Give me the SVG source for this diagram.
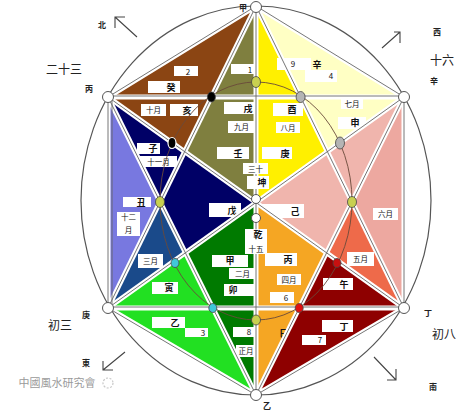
<svg xmlns="http://www.w3.org/2000/svg" width="474" height="414" viewBox="0 0 474 414">
<style>
.t{font-family:"Noto Sans CJK SC","Noto Sans",sans-serif;font-size:9px;font-weight:700;fill:#111;text-anchor:middle}
.m{font-size:7.5px;font-weight:400}
.n{font-size:8px;font-weight:400}
.o{font-family:"Noto Sans CJK SC","Noto Sans",sans-serif;font-size:12px;fill:#222;text-anchor:middle}
.s{font-family:"Noto Sans CJK SC","Noto Sans",sans-serif;font-size:8px;font-weight:700;fill:#222;text-anchor:middle}
.b{fill:#fff}
.w{stroke:#fff;stroke-width:5;fill:none}
.g{stroke:#666;stroke-width:0.9;fill:none}
.vx{fill:#fff;stroke:#555;stroke-width:1}
.ar{stroke:#444;stroke-width:1.1;fill:none}
</style>
<rect width="474" height="414" fill="#fff"/>

<g id="n-brown-top"><polygon points="108,97 256,6 211.4,97" fill="#8B4513"/>
<rect class="b" x="174" y="66" width="24" height="10"/><text class="t n" x="188" y="74.5">2</text>
<rect class="b" x="148" y="81" width="32" height="12"/><text class="t" x="171" y="90.5">癸</text></g>

<g id="n-olive-top"><polygon points="256,6 211.4,97 256,97" fill="#7F7F3F"/>
<rect class="b" x="231" y="64" width="24" height="10"/><text class="t n" x="250" y="72.5">1</text></g>

<g id="n-brown-low"><polygon points="108,97 211.4,97 184.6,151.6" fill="#8B4513"/>
<rect class="b" x="141" y="104" width="25" height="12"/><text class="t m" x="153.5" y="113">十月</text>
<rect class="b" x="170" y="104" width="28" height="12"/><text class="t" x="187" y="113.5">亥</text></g>

<g id="n-olive-low"><polygon points="211.4,97 256,97 256,202.5 184.6,151.6" fill="#7F7F3F"/>
<rect class="b" x="224" y="102" width="32" height="12"/><text class="t" x="248" y="111.5">戌</text>
<rect class="b" x="228" y="121" width="27" height="12"/><text class="t m" x="241.5" y="130">九月</text>
<rect class="b" x="217" y="147" width="32" height="12"/><text class="t" x="238" y="156.5">壬</text></g>

<g id="n-navy-up"><polygon points="108,97 184.6,151.6 160,202" fill="#000066"/>
<rect class="b" x="137" y="143" width="23" height="11"/><text class="t" x="153" y="151.5">子</text>
<rect class="b" x="140" y="156" width="37" height="11"/><text class="t m" x="158.5" y="164.5">十一月</text></g>

<g id="n-lavender"><polygon points="108,97 160,202 108,308" fill="#7878E0"/>
<rect class="b" x="123" y="197" width="28" height="10"/><text class="t" x="141" y="205.5">丑</text>
<rect class="b" x="117" y="212" width="23" height="24"/><text class="t m" x="128.5" y="220">十二</text><text class="t m" x="128.5" y="233">月</text></g>

<g id="n-navy-center"><polygon points="184.6,151.6 256,202.5 185.4,252.8 160,202" fill="#000066"/>
<rect class="b" x="209" y="203" width="32" height="14"/><text class="t" x="232" y="213.5">戊</text></g>

<g id="n-steelblue"><polygon points="160,202 108,308 185.4,252.8" fill="#1A4A8A"/>
<rect class="b" x="138" y="254" width="25" height="14"/><text class="t m" x="150.5" y="264">三月</text></g>

<g id="n-darkgreen"><polygon points="256,202.5 185.4,252.8 256,395" fill="#007A00"/>
<rect class="b" x="212" y="255" width="36" height="12"/><text class="t" x="230" y="264">甲</text>
<rect class="b" x="229" y="268" width="27" height="11"/><text class="t m" x="242.5" y="276.5">二月</text>
<rect class="b" x="224" y="284" width="30" height="12"/><text class="t" x="233" y="293">卯</text>
<rect class="b" x="233" y="327" width="22" height="10"/><text class="t n" x="249" y="335">8</text>
<rect class="b" x="236" y="345" width="20" height="12"/><text class="t m" x="246" y="354">正月</text></g>

<g id="n-brightgreen"><polygon points="108,308 185.4,252.8 256,395" fill="#22E022"/>
<rect class="b" x="152" y="282" width="26" height="12"/><text class="t" x="169" y="291">寅</text>
<rect class="b" x="152" y="317" width="33" height="11"/><text class="t" x="175" y="326">乙</text>
<rect class="b" x="185" y="328" width="23" height="9"/><text class="t n" x="203" y="335.5">3</text></g>

<g id="n-paleyellow-top"><polygon points="256,6 404,97 300.6,97" fill="#FFFFC4"/>
<text class="t" x="317" y="68">辛</text>
<rect class="b" x="305" y="70" width="32" height="12"/><text class="t n" x="331" y="79">4</text></g>

<g id="n-yellow-top"><polygon points="256,6 256,97 300.6,97" fill="#FFF000"/>
<rect class="b" x="277" y="58" width="34" height="12"/><text class="t n" x="293" y="67">9</text></g>

<g id="n-paleyellow-low"><polygon points="404,97 300.6,97 327.4,151.6" fill="#FFFFC4"/>
<rect class="b" x="341" y="99" width="22" height="10"/><text class="t m" x="352" y="107">七月</text>
<rect class="b" x="338" y="117" width="28" height="12"/><text class="t" x="355" y="126">申</text></g>

<g id="n-yellow-low"><polygon points="300.6,97 256,97 256,202.5 327.4,151.6" fill="#FFF000"/>
<rect class="b" x="273" y="103" width="30" height="13"/><text class="t" x="292" y="112.5">酉</text>
<rect class="b" x="276" y="122" width="24" height="11"/><text class="t m" x="288" y="130.5">八月</text>
<rect class="b" x="262" y="147" width="30" height="12"/><text class="t" x="285" y="156.5">庚</text></g>

<g id="n-pink-up"><polygon points="404,97 327.4,151.6 352,202" fill="#F0B5AD"/>
<rect class="b" x="356" y="194" width="36" height="12"/><text class="t" x="375" y="203">未</text></g>

<g id="n-pink-right"><polygon points="404,97 352,202 404,308" fill="#EDA8A0"/>
<rect class="b" x="373" y="208" width="25" height="12"/><text class="t m" x="385.5" y="217">六月</text></g>

<g id="n-pink-center"><polygon points="327.4,151.6 352,202 326.6,252.8 256,202.5" fill="#F0B5AD"/>
<rect class="b" x="262" y="204" width="42" height="14"/><text class="t" x="295" y="214.5">己</text></g>

<g id="n-orangered"><polygon points="352,202 404,308 326.6,252.8" fill="#EE6A4A"/>
<rect class="b" x="347" y="252" width="27" height="14"/><text class="t m" x="360.5" y="262">五月</text></g>

<g id="n-orange"><polygon points="256,202.5 326.6,252.8 256,395" fill="#F5A623"/>
<rect class="b" x="265" y="253" width="32" height="13"/><text class="t" x="288" y="263">丙</text>
<rect class="b" x="277" y="274" width="24" height="11"/><text class="t m" x="289" y="282.5">四月</text>
<rect class="b" x="270" y="292" width="24" height="11"/><text class="t n" x="286" y="300.5">6</text>
<text class="t" x="284" y="337">巳</text></g>

<g id="n-darkred"><polygon points="404,308 326.6,252.8 256,395" fill="#8E0000"/>
<rect class="b" x="323" y="278" width="30" height="12"/><text class="t" x="344" y="287.5">午</text>
<rect class="b" x="322" y="320" width="31" height="12"/><text class="t" x="344" y="329.5">丁</text>
<rect class="b" x="302" y="335" width="24" height="10"/><text class="t n" x="320" y="343">7</text></g>

<g id="connectors">
<g class="w">
<line x1="256" y1="6" x2="108" y2="308"/><line x1="256" y1="6" x2="404" y2="308"/>
<line x1="256" y1="395" x2="108" y2="97"/><line x1="256" y1="395" x2="404" y2="97"/>
<line x1="108" y1="97" x2="404" y2="308"/><line x1="404" y1="97" x2="108" y2="308"/>
<line x1="108" y1="97" x2="404" y2="97"/><line x1="108" y1="308" x2="404" y2="308"/>
<line x1="256" y1="6" x2="256" y2="395"/>
<polygon points="256,6 404,97 404,308 256,395 108,308 108,97"/>
</g>
<g class="g">
<line x1="256" y1="6" x2="108" y2="308"/><line x1="256" y1="6" x2="404" y2="308"/>
<line x1="256" y1="395" x2="108" y2="97"/><line x1="256" y1="395" x2="404" y2="97"/>
<line x1="108" y1="97" x2="404" y2="308"/><line x1="404" y1="97" x2="108" y2="308"/>
<line x1="108" y1="96" x2="404" y2="96"/><line x1="108" y1="307" x2="404" y2="307"/>
<line x1="256" y1="6" x2="256" y2="395"/>
<polygon points="256,6 404,97 404,308 256,395 108,308 108,97"/>
<line x1="112" y1="99" x2="112" y2="306"/>
</g>
<ellipse cx="256" cy="201" rx="96" ry="119" fill="none" stroke="#6a4a3a" stroke-width="0.9"/>
<ellipse cx="256" cy="200.5" rx="175" ry="194.5" fill="none" stroke="#555" stroke-width="1.2"/>
</g>

<g id="junctions" stroke="#444" stroke-width="0.8">
<ellipse cx="256" cy="82" rx="4.5" ry="5.5" fill="#C8D050"/>
<ellipse cx="211.4" cy="97" rx="4" ry="5" fill="#000"/>
<ellipse cx="300.6" cy="97" rx="4.5" ry="5.5" fill="#B4B4B4"/>
<ellipse cx="172" cy="143" rx="4" ry="5.5" fill="#000" stroke="#fff" stroke-width="1.2"/>
<ellipse cx="340" cy="143" rx="4.5" ry="6" fill="#B4B4B4"/>
<ellipse cx="160" cy="202" rx="4.5" ry="5.5" fill="#C8D050"/>
<ellipse cx="352" cy="202" rx="4.5" ry="5.5" fill="#C8D050"/>
<ellipse cx="175" cy="263" rx="4" ry="4.5" fill="#40C8D8"/>
<ellipse cx="337" cy="263" rx="4" ry="4.5" fill="#C81010"/>
<ellipse cx="212.8" cy="308" rx="4" ry="4.5" fill="#40C8D8"/>
<ellipse cx="299.2" cy="308" rx="4" ry="4.5" fill="#E01010"/>
<ellipse cx="256" cy="320" rx="4.5" ry="5" fill="#C8D050"/>
<circle class="vx" cx="256" cy="199" r="4.5"/><circle class="vx" cx="256" cy="218" r="4.5"/>
<circle class="vx" cx="256" cy="7" r="5.5"/><circle class="vx" cx="108" cy="97" r="5.5"/>
<circle class="vx" cx="404" cy="97" r="5.5"/><circle class="vx" cx="108" cy="308" r="5.5"/>
<circle class="vx" cx="404" cy="308" r="5.5"/><circle class="vx" cx="256" cy="395" r="5.5"/>
</g>

<g id="center-labels">
<rect class="b" x="243" y="163" width="25" height="11"/><text class="t m" x="255.5" y="171.5">三十</text>
<rect class="b" x="247" y="176" width="22" height="13"/><text class="t" x="262" y="186">坤</text>
<rect class="b" x="245" y="229" width="22" height="25"/><text class="t" x="258" y="238">乾</text><text class="t m" x="256" y="251.5">十五</text>
</g>

<g id="outer">
<text class="s" x="102" y="28">北</text>
<text class="o" x="64" y="74">二十三</text>
<text class="s" x="89" y="92">丙</text>
<text class="s" x="243" y="11">甲</text>
<text class="s" x="437" y="35">西</text>
<text class="o" x="442" y="65">十六</text>
<text class="s" x="434" y="84">辛</text>
<text class="s" x="86" y="318">庚</text>
<text class="o" x="60" y="330">初三</text>
<text class="s" x="86" y="366">東</text>
<text class="s" x="428" y="316">丁</text>
<text class="o" x="444" y="339">初八</text>
<text class="s" x="433" y="390">南</text>
<text class="s" x="267" y="409">乙</text>
<text x="57" y="387" font-family="'Noto Sans CJK SC',sans-serif" font-size="11" fill="#9a9a9a" text-anchor="middle">中國風水研究會</text>
<circle cx="108" cy="383" r="5" fill="none" stroke="#c8c8c8" stroke-width="1.2" stroke-dasharray="2 1.5"/>
</g>

<g id="arrows" class="ar">
<path d="M137,37 L115,17 M125,17 L115,17 L115,28"/>
<path d="M382,48 L400,32 M394,32 L400,32 L400,43"/>
<path d="M125,352 L103,370 M113,370 L103,370 L103,361"/>
<path d="M374,357 L396,380 M387,380 L396,380 L396,369"/>
</g>
</svg>
